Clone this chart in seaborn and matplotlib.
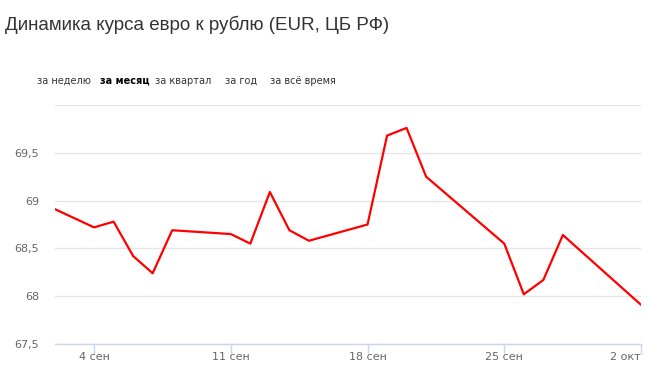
import pandas as pd
import matplotlib
matplotlib.use("Agg")
import matplotlib.pyplot as plt
import seaborn as sns

# ---------------------------------------------------------
# DATA (EUR/RUB)
# ---------------------------------------------------------
dates = ["2017-09-02", "2017-09-04", "2017-09-05", "2017-09-06", "2017-09-07",
         "2017-09-08", "2017-09-11", "2017-09-12", "2017-09-13", "2017-09-14",
         "2017-09-15", "2017-09-18", "2017-09-19", "2017-09-20", "2017-09-21",
         "2017-09-25", "2017-09-26", "2017-09-27", "2017-09-28", "2017-10-02"]
rates = [68.91, 68.72, 68.78, 68.42, 68.24,
         68.69, 68.65, 68.55, 69.09, 68.69,
         68.58, 68.75, 69.68, 69.76, 69.25,
         68.55, 68.02, 68.17, 68.64, 67.91]

tick_dates = ["2017-09-04", "2017-09-11", "2017-09-18", "2017-09-25", "2017-10-02"]
tick_labels = ["4 сен", "11 сен", "18 сен", "25 сен", "2 окт"]
y_ticks = [67.5, 68, 68.5, 69, 69.5, 70]
y_labels = ["67,5", "68", "68,5", "69", "69,5", ""]

periods = ["за неделю", "за месяц", "за квартал", "за год", "за всё время"]
period_x = [37, 100, 155, 225, 270]
selected = "за месяц"

title = "Динамика курса евро к рублю (EUR, ЦБ РФ)"

df = pd.DataFrame({"date": pd.to_datetime(dates), "rate": rates})

# ---------------------------------------------------------
# PLOT
# ---------------------------------------------------------
sns.set_style("white")
plt.rcParams["font.family"] = ["DejaVu Sans"]

fig = plt.figure(figsize=(6.5, 3.9), dpi=100)
ax = fig.add_axes([55 / 650, 1 - 344 / 390, (641 - 55) / 650, (344 - 105) / 390])

sns.lineplot(data=df, x="date", y="rate", ax=ax, color="#ff0000", linewidth=1.6)

ax.set_xlim(pd.Timestamp("2017-09-02"), pd.Timestamp("2017-10-02"))
ax.set_ylim(67.5, 70)
ax.set_yticks(y_ticks)
ax.set_yticklabels(y_labels)
ax.set_xticks(pd.to_datetime(tick_dates))
ax.set_xticklabels(tick_labels)
ax.get_xticklabels()[-1].set_ha("right")

ax.grid(axis="y", color="#e6e6e6", linewidth=1)
ax.set_axisbelow(True)
for side in ["top", "right", "left"]:
    ax.spines[side].set_visible(False)
ax.spines["bottom"].set_color("#ccd6eb")
ax.spines["bottom"].set_linewidth(1)
ax.tick_params(axis="x", bottom=True, length=7, width=1, color="#ccd6eb",
               labelcolor="#666666", labelsize=8, pad=-1)
ax.tick_params(axis="y", left=False, length=0, labelcolor="#666666", labelsize=8, pad=11.5)
ax.set_xlabel("")
ax.set_ylabel("")

fig.text(5 / 650, 1 - 25 / 390, title, fontsize=13.5, color="#333333",
         family="Liberation Sans", va="center", ha="left")

for label, px in zip(periods, period_x):
    fig.text(px / 650, 1 - 81 / 390, label, fontsize=7, va="center", ha="left",
             color="#000000" if label == selected else "#333333",
             fontweight="bold" if label == selected else "normal")

fig.savefig("out.png", dpi=100)
